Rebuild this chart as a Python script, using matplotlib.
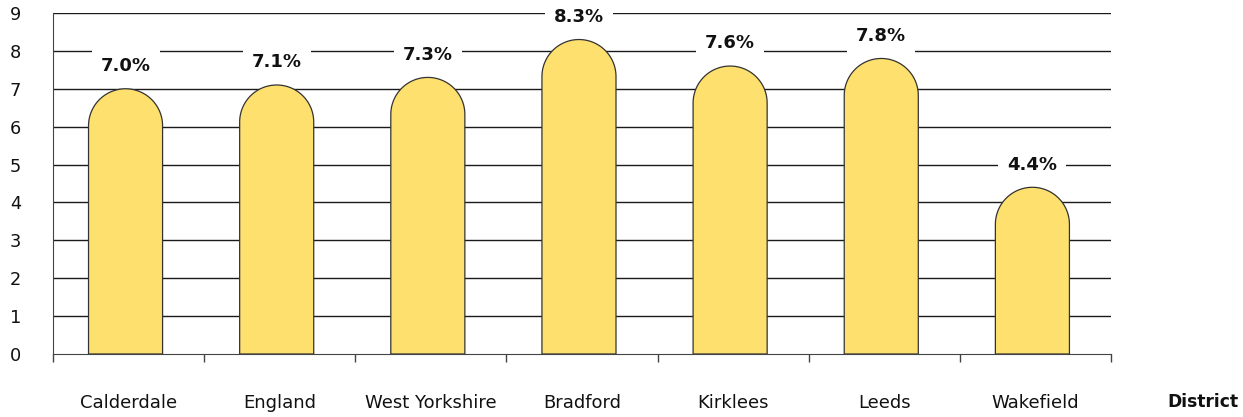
import matplotlib
matplotlib.use("Agg")
import matplotlib.pyplot as plt
from matplotlib.path import Path
from matplotlib.patches import PathPatch
import numpy as np

categories = ["Calderdale", "England", "West Yorkshire", "Bradford", "Kirklees", "Leeds", "Wakefield"]
values = [7.0, 7.1, 7.3, 8.3, 7.6, 7.8, 4.4]
labels = ["7.0%", "7.1%", "7.3%", "8.3%", "7.6%", "7.8%", "4.4%"]
yticks = [0, 1, 2, 3, 4, 5, 6, 7, 8, 9]
axis_title = "District"

plt.rcParams['font.family'] = ['DejaVu Sans']

W, H = 1243, 417
fig = plt.figure(figsize=(W / 100, H / 100), dpi=100)
left, right, bottom, top = 53 / W, 1111 / W, 1 - 354 / H, 1 - 13 / H
ax = fig.add_axes([left, bottom, right - left, top - bottom])

n = len(categories)
ax.set_xlim(-0.5, n - 0.5)
ax.set_ylim(0, 9)

# gridlines
for yv in yticks[1:]:
    ax.axhline(yv, color="#1a1a1a", lw=1.0, zorder=1)

# pixel per data unit
ax_w_px = (right - left) * W
ax_h_px = (top - bottom) * H
px_x = ax_w_px / n
px_y = ax_h_px / 9.0

bar_w = 0.49
hw = bar_w / 2
ry = hw * px_x / px_y

for i, v in enumerate(values):
    c = i - 0.02
    t = np.linspace(0, np.pi, 60)
    xs = list(c + hw * np.cos(t))
    ys = list((v - ry) + ry * np.sin(t))
    verts = [(c + hw, 0)] + list(zip(xs, ys)) + [(c - hw, 0), (c + hw, 0)]
    codes = [Path.MOVETO] + [Path.LINETO] * (len(verts) - 2) + [Path.CLOSEPOLY]
    patch = PathPatch(Path(verts, codes), facecolor="#FEE06F", edgecolor="#333333", lw=0.9, zorder=3)
    ax.add_patch(patch)
    ax.text(c, v + 0.6, labels[i], ha="center", va="center", fontsize=13, fontweight="bold",
            color="#111111", zorder=4,
            bbox=dict(boxstyle="square,pad=0.5", facecolor="white", edgecolor="none"))

for s in ["top", "right"]:
    ax.spines[s].set_visible(False)
ax.spines["left"].set_color("#444444")
ax.spines["bottom"].set_color("#444444")
ax.spines["left"].set_bounds(0, 9)

ax.set_yticks(yticks)
ax.set_yticklabels([str(y) for y in yticks], fontsize=12.8, color="#111111")
ax.tick_params(axis="y", length=0, pad=23)

ax.set_xticks(np.arange(-0.5, n, 1.0))
ax.set_xticklabels([])
ax.tick_params(axis="x", which="major", length=6, width=1, color="#444444", direction="out")
ax.set_xticks(np.arange(n), minor=True)
ax.set_xticklabels(categories, minor=True, fontsize=13, color="#111111")
ax.tick_params(axis="x", which="minor", length=0, pad=29)

ax.text(1203 / W, 1 - 402 / H, axis_title, transform=fig.transFigure, ha="center", va="center",
        fontsize=12.3, fontweight="bold", color="#111111")

fig.savefig("out.png", dpi=100)
